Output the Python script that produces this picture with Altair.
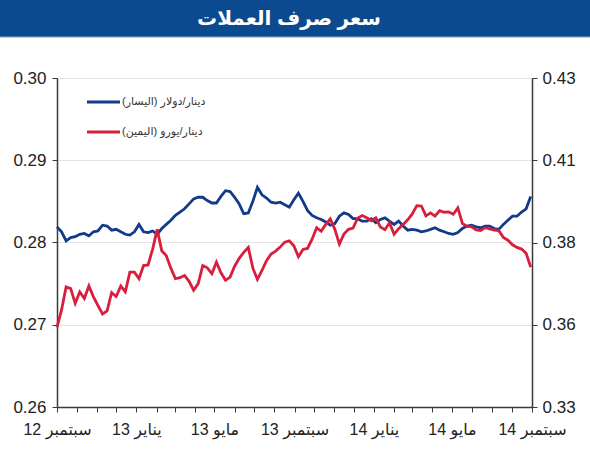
import json
import altair as alt
import pandas as pd

RLE, PDF = "\u202b", "\u202c"

title_text = "سعر صرف العملات"
series_usd_name = "دينار/دولار (اليسار)"
series_eur_name = "دينار/يورو (اليمين)"
x_labels = ["سبتمبر 12", "يناير 13", "مايو 13", "سبتمبر 13", "يناير 14", "مايو 14", "سبتمبر 14"]
left_ticks = [0.26, 0.27, 0.28, 0.29, 0.30]
right_ticks = [0.33, 0.355, 0.38, 0.405, 0.43]
start_date = "2012-09-01"

# weekly readings, dinar per dollar (left axis)
usd = [0.2819, 0.2813, 0.2802, 0.2806, 0.2807, 0.2810, 0.2811, 0.2808, 0.2813, 0.2814,
       0.2821, 0.2820, 0.2815, 0.2816, 0.2813, 0.2810, 0.2809, 0.2813, 0.2822, 0.2813,
       0.2812, 0.2814, 0.2810, 0.2817, 0.2822, 0.2827, 0.2833, 0.2837, 0.2841, 0.2847,
       0.2853, 0.2855, 0.2855, 0.2851, 0.2848, 0.2848, 0.2856, 0.2863, 0.2862, 0.2855,
       0.2847, 0.2835, 0.2836, 0.2850, 0.2867, 0.2858, 0.2854, 0.2849, 0.2848, 0.2849,
       0.2846, 0.2843, 0.2852, 0.2860, 0.2850, 0.2839, 0.2833, 0.2830, 0.2828, 0.2825,
       0.2821, 0.2823, 0.2832, 0.2836, 0.2834, 0.2829, 0.2829, 0.2826, 0.2826, 0.2829,
       0.2824, 0.2828, 0.2830, 0.2826, 0.2822, 0.2826, 0.2820, 0.2815, 0.2816, 0.2815,
       0.2813, 0.2814, 0.2816, 0.2818, 0.2815, 0.2813, 0.2811, 0.2810, 0.2812, 0.2817,
       0.2820, 0.2821, 0.2819, 0.2818, 0.2820, 0.2820, 0.2817, 0.2816, 0.2822, 0.2827,
       0.2832, 0.2832, 0.2837, 0.2841, 0.2856]

# weekly readings, dinar per euro (right axis)
eur = [0.3542, 0.3595, 0.3665, 0.3660, 0.3615, 0.3650, 0.3630, 0.3668, 0.3635, 0.3608,
       0.3583, 0.3592, 0.3648, 0.3636, 0.3668, 0.3650, 0.3710, 0.3710, 0.3690, 0.3730,
       0.3732, 0.3780, 0.3840, 0.3775, 0.3760, 0.3722, 0.3690, 0.3693, 0.3700, 0.3682,
       0.3655, 0.3675, 0.3730, 0.3723, 0.3705, 0.3740, 0.3708, 0.3685, 0.3695, 0.3728,
       0.3752, 0.3770, 0.3785, 0.3722, 0.3688, 0.3715, 0.3745, 0.3765, 0.3774, 0.3786,
       0.3801, 0.3805, 0.3790, 0.3757, 0.3779, 0.3782, 0.3810, 0.3845, 0.3834, 0.3855,
       0.3872, 0.3840, 0.3795, 0.3826, 0.3840, 0.3844, 0.3874, 0.3882, 0.3875, 0.3866,
       0.3875, 0.3847, 0.3839, 0.3860, 0.3825, 0.3842, 0.3855, 0.3869, 0.3887, 0.3912,
       0.3911, 0.3881, 0.3890, 0.3880, 0.3897, 0.3892, 0.3893, 0.3886, 0.3905, 0.3858,
       0.3849, 0.3848, 0.3838, 0.3836, 0.3845, 0.3841, 0.3838, 0.3836, 0.3815, 0.3807,
       0.3793, 0.3785, 0.3780, 0.3767, 0.3725]

BLUE = "#12398a"
RED = "#d81e3c"
BANNER = "#0b4a8f"
AXIS = "#3a3a3a"
FONT = "Liberation Sans, Arial, DejaVu Sans"

dates = pd.date_range(start_date, periods=len(usd), freq="7D")
df = pd.DataFrame({"date": dates, "usd": usd, "eur": eur})

month_ticks = [alt.DateTime(year=2012 + (8 + i) // 12, month=(8 + i) % 12 + 1, date=1) for i in range(25)]
labels_rle = [RLE + s + PDF for s in x_labels]
idx = "((year(datum.value)-2012)*12 + month(datum.value) - 8)"
label_expr = f"({idx} % 4 == 0) ? {json.dumps(labels_rle, ensure_ascii=False)}[{idx}/4] : ''"

x_enc = alt.X(
    "date:T",
    scale=alt.Scale(domain=[alt.DateTime(year=2012, month=9, date=1),
                            alt.DateTime(year=2014, month=9, date=1)]),
    axis=alt.Axis(values=month_ticks, labelExpr=label_expr, title=None, grid=False,
                  tickSize=5, labelPadding=9, labelOverlap=False, labelFlush=False,
                  labelFontSize=16, labelFont=FONT, labelColor="#222222",
                  domainColor=AXIS, tickColor=AXIS, domainWidth=1.5, tickWidth=1),
)

base = alt.Chart(df)

blue_line = base.mark_line(color=BLUE, strokeWidth=2.8).encode(
    x=x_enc,
    y=alt.Y("usd:Q",
            scale=alt.Scale(domain=[0.26, 0.30], nice=False, zero=False),
            axis=alt.Axis(values=left_ticks, format=".2f", orient="left", title=None,
                          grid=True, gridColor="#e4e4e4", gridWidth=1,
                          tickSize=5, labelPadding=6, labelFontSize=17, labelFont=FONT,
                          labelColor="#222222", domainColor=AXIS, tickColor=AXIS,
                          domainWidth=1.5)),
)

red_line = base.mark_line(color=RED, strokeWidth=2.8).encode(
    x=x_enc,
    y=alt.Y("eur:Q",
            scale=alt.Scale(domain=[0.33, 0.43], nice=False, zero=False),
            axis=alt.Axis(values=right_ticks, labelExpr="format(datum.value + 0.0001, '.2f')",
                          orient="right", title=None, grid=False,
                          tickSize=5, labelPadding=5, labelFontSize=17, labelFont=FONT,
                          labelColor="#222222", domainColor=AXIS, tickColor=AXIS,
                          domainWidth=1.5)),
)

one = alt.Chart(pd.DataFrame({"k": [0]}))

banner = one.mark_rect(color=BANNER).encode(
    x=alt.value(-57), x2=alt.value(533), y=alt.value(-78), y2=alt.value(-41))
banner_edge = one.mark_rule(color="#7f9fc8", strokeWidth=1).encode(
    x=alt.value(-57), x2=alt.value(533), y=alt.value(-41))
title_mark = one.mark_text(color="white", fontSize=20, fontWeight="bold", font=FONT,
                           align="center", baseline="middle").encode(
    x=alt.value(232), y=alt.value(-59), text=alt.value(RLE + title_text + PDF))

leg_usd_line = one.mark_rule(color=BLUE, strokeWidth=2.8).encode(
    x=alt.value(30), x2=alt.value(63), y=alt.value(24))
leg_eur_line = one.mark_rule(color=RED, strokeWidth=2.8).encode(
    x=alt.value(30), x2=alt.value(63), y=alt.value(54))
leg_usd_text = one.mark_text(color="#333333", fontSize=11, font=FONT, align="left",
                             baseline="middle").encode(
    x=alt.value(65), y=alt.value(24), text=alt.value(RLE + series_usd_name + PDF))
leg_eur_text = one.mark_text(color="#333333", fontSize=11, font=FONT, align="left",
                             baseline="middle").encode(
    x=alt.value(65), y=alt.value(54), text=alt.value(RLE + series_eur_name + PDF))

chart = alt.layer(
    blue_line, red_line, banner, banner_edge, title_mark,
    leg_usd_line, leg_eur_line, leg_usd_text, leg_eur_text,
).resolve_scale(y="independent").properties(
    width=475, height=329,
    autosize=alt.AutoSizeParams(type="none"),
    padding={"left": 57, "top": 78, "right": 58, "bottom": 43},
    background="white",
).configure_view(stroke="transparent")

chart.save("out.html", embed_options={"renderer": "svg", "actions": False})
